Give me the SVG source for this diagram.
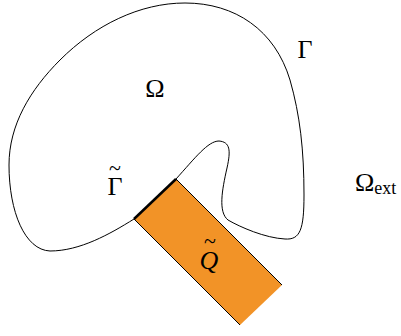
<svg xmlns="http://www.w3.org/2000/svg" width="401" height="336" viewBox="0 0 401 336">
<style>
.lbl{font-family:"Liberation Serif","DejaVu Serif",serif;font-size:26px;fill:#000}
.it{font-style:italic}
.tl{font-family:"Liberation Serif","DejaVu Serif",serif;font-size:22px;fill:#000}
.curve{fill:none;stroke:#000;stroke-width:1}
</style>
<rect width="401" height="336" fill="#fff"/>
<g id="domain">
<path class="curve" d="M134,219 C110,234 80,251 50,251 C25,250 9,212 9,165 C9,125 30,90 60,60 C95,25 140,3 185,3 C235,3 275,30 290,80 C300,115 304,150 304,195 C304,230 300,240 285,239 C265,238 240,227 228,220 C218,212 222,190 227,168 C231,150 230,142 219,141 C208,141 195,158 176,179"/>
</g>
<g id="Q">
<polygon points="134,219 176,179 282,285 240,325" fill="#F29327" stroke="none"/>
<path d="M134,219 L240,325 M176,179 L282,285" stroke="#000" stroke-width="1" fill="none"/>
<path d="M134,219 L176,179" stroke="#000" stroke-width="2.5" fill="none"/>
</g>
<g id="labels">
<text class="lbl" x="155" y="97" text-anchor="middle">Ω</text>
<text class="lbl" x="305" y="58" text-anchor="middle">Γ</text>
<text class="lbl" x="115" y="195" text-anchor="middle">Γ</text>
<text class="tl" x="115" y="175" text-anchor="middle">~</text>
<text class="lbl" x="355" y="191">Ω<tspan font-size="18" dy="3">ext</tspan></text>
<text class="lbl it" x="209" y="269" text-anchor="middle">Q</text>
<text class="tl" x="210" y="248" text-anchor="middle">~</text>
</g>
</svg>
